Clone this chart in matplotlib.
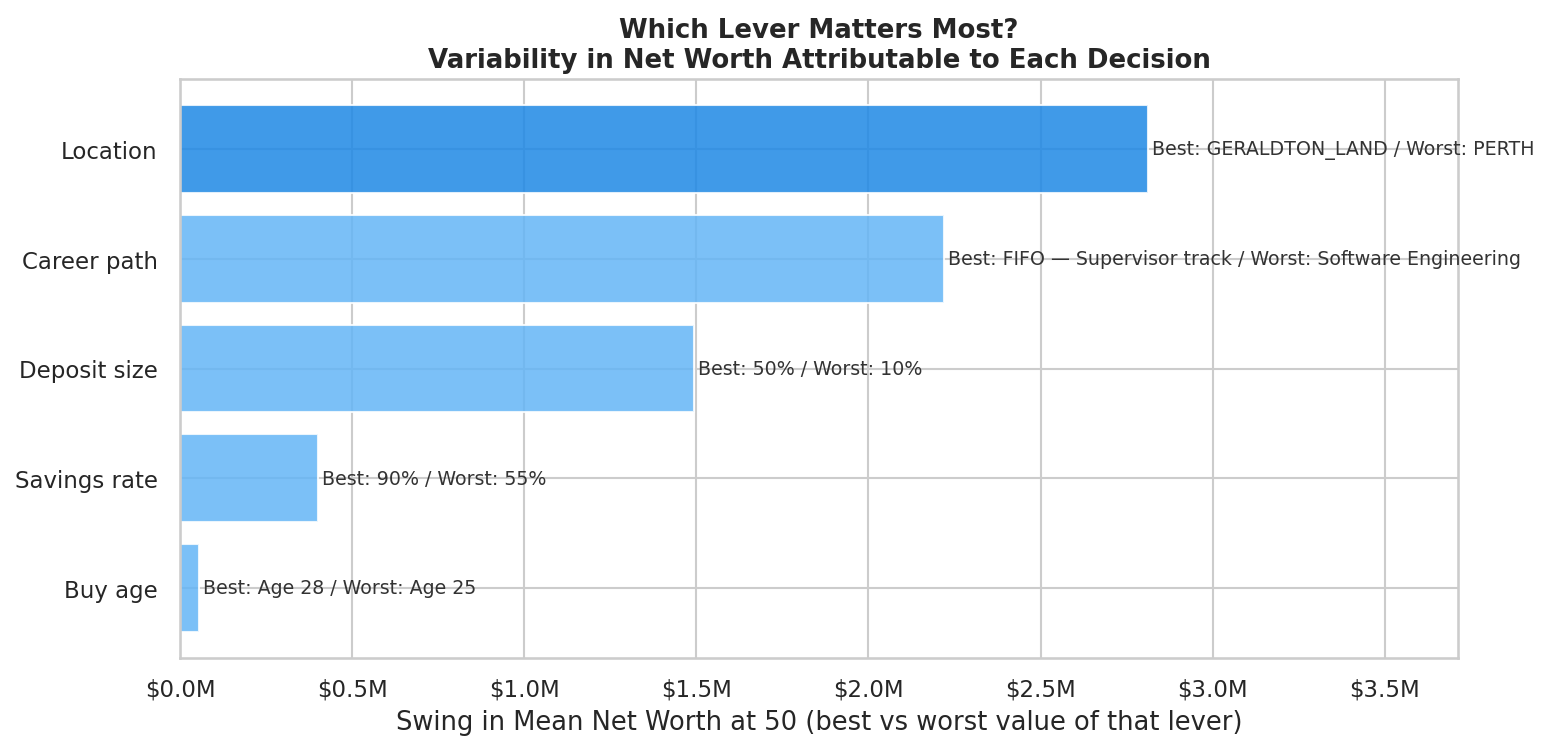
import matplotlib
matplotlib.use("Agg")
import matplotlib.pyplot as plt
import seaborn as sns
from matplotlib.ticker import FuncFormatter

sns.set_theme(style="whitegrid")
plt.rcParams['font.family'] = ['DejaVu Sans']

# levers, top to bottom
levers = ["Location", "Career path", "Deposit size", "Savings rate", "Buy age"]
swing_m = [2.813, 2.219, 1.493, 0.401, 0.056]   # $ millions
best = ["GERALDTON_LAND", "FIFO \u2014 Supervisor track", "50%", "90%", "Age 28"]
worst = ["PERTH", "Software Engineering", "10%", "55%", "Age 25"]

fig, ax = plt.subplots(figsize=(10.32, 5.013), dpi=150)
fig.subplots_adjust(left=0.1163, right=0.9419, top=0.8936, bottom=0.1237)

# plot bottom-up so the biggest lever sits on top
ypos = list(range(len(levers)))[::-1]
colors = ["#1E88E5" if i == 0 else "#64B5F6" for i in range(len(levers))]
ax.barh(ypos, swing_m, height=0.8, color=colors, alpha=0.85, edgecolor="white")

top = max(swing_m)
for y, v, b, w in zip(ypos, swing_m, best, worst):
    ax.text(v + top * 0.004, y, f"Best: {b} / Worst: {w}",
            va="center", ha="left", fontsize=9.1, color="#333333")

ax.set_yticks(ypos)
ax.set_yticklabels(levers)
ax.tick_params(axis="y", pad=4.8)
ax.set_xlim(0, top * 1.32)
ax.xaxis.set_major_formatter(FuncFormatter(lambda x, p: f"${x:.1f}M"))
ax.set_xlabel("Swing in Mean Net Worth at 50 (best vs worst value of that lever)",
              fontsize=12.35)
ax.set_title("Which Lever Matters Most?\nVariability in Net Worth Attributable to Each Decision",
             fontweight="bold", fontsize=12.5)

fig.savefig("out.png", dpi=150)
